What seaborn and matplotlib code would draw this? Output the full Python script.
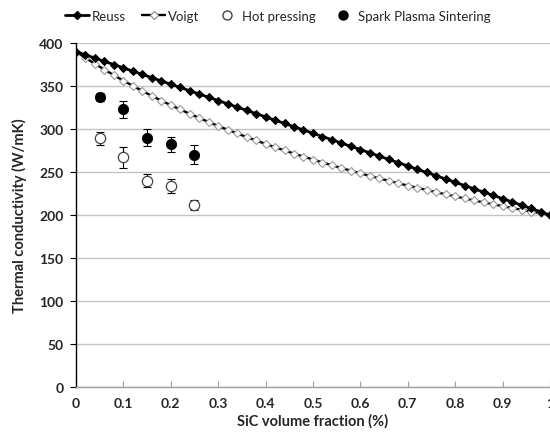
import pandas as pd
import matplotlib
matplotlib.use("Agg")
import matplotlib.pyplot as plt
from matplotlib.lines import Line2D
import seaborn as sns

# fraction de SiC (pas de 0.02) et modèles de Reuss / Voigt
fraction = [i / 50 for i in range(51)]
reuss = [390, 386.2, 382.4, 378.6, 374.8, 371, 367.2, 363.4, 359.6, 355.8,
         352, 348.2, 344.4, 340.6, 336.8, 333, 329.2, 325.4, 321.6, 317.8,
         314, 310.2, 306.4, 302.6, 298.8, 295, 291.2, 287.4, 283.6, 279.8,
         276, 272.2, 268.4, 264.6, 260.8, 257, 253.2, 249.4, 245.6, 241.8,
         238, 234.2, 230.4, 226.6, 222.8, 219, 215.2, 211.4, 207.6, 203.8, 200]
voigt = [390, 382.7, 375.7, 369.0, 362.5, 356.2, 350.1, 344.2, 338.5, 333.0,
         327.7, 322.6, 317.6, 312.8, 308.1, 303.5, 299.1, 294.8, 290.6, 286.6,
         282.6, 278.8, 275.0, 271.4, 267.9, 264.4, 261.0, 257.8, 254.6, 251.5,
         248.4, 245.4, 242.5, 239.7, 236.9, 234.2, 231.6, 229.0, 226.5, 224.0,
         221.6, 219.2, 216.9, 214.6, 212.4, 210.2, 208.1, 206.0, 204.0, 202.0, 200]

# mesures expérimentales
mes_x = [0.05, 0.10, 0.15, 0.20, 0.25]
hp = [289, 267, 240, 234, 212]
hp_err = [8, 12, 8, 8, 6]
sps = [337, 323, 290, 282, 270]
sps_err = [5, 10, 10, 9, 11]

df = pd.DataFrame({"x": fraction, "Reuss": reuss, "Voigt": voigt})
df_mes = pd.DataFrame({"x": mes_x, "hp": hp, "hp_err": hp_err,
                       "sps": sps, "sps_err": sps_err})

sns.set_style("white")
plt.rcParams["font.family"] = ["Lato", "DejaVu Sans"]

fig = plt.figure(figsize=(5.5, 4.39), dpi=100)
ax = fig.add_axes([0.138, 0.116, 0.862, 0.784])

sns.lineplot(data=df, x="x", y="Voigt", ax=ax, color="black", lw=1.7,
             marker="D", markersize=4, markerfacecolor="white",
             markeredgecolor="#9a9a9a", markeredgewidth=0.8)
sns.lineplot(data=df, x="x", y="Reuss", ax=ax, color="black", lw=2,
             marker="D", markersize=3.6, markerfacecolor="black",
             markeredgecolor="black")

ax.errorbar(df_mes["x"], df_mes["hp"], yerr=df_mes["hp_err"], fmt="none",
            ecolor="black", elinewidth=0.8, capsize=3, capthick=0.8)
ax.errorbar(df_mes["x"], df_mes["sps"], yerr=df_mes["sps_err"], fmt="none",
            ecolor="black", elinewidth=0.8, capsize=3, capthick=0.8)
sns.scatterplot(data=df_mes, x="x", y="hp", ax=ax, s=55, color="white",
                edgecolor="#444444", linewidth=0.9, zorder=5)
sns.scatterplot(data=df_mes, x="x", y="sps", ax=ax, s=55, color="black",
                edgecolor="black", zorder=5)

ax.set_xlim(0, 1)
ax.set_ylim(0, 400)
ax.set_xticks([i / 10 for i in range(11)])
ax.set_xticklabels(["0"] + [f"0.{i}" for i in range(1, 10)] + ["1"])
ax.set_yticks(range(0, 401, 50))
ax.yaxis.grid(True, color="#c4c4c4", lw=1)
ax.xaxis.grid(False)
for s in ["top", "right"]:
    ax.spines[s].set_visible(False)
ax.spines["left"].set_color("black")
ax.spines["left"].set_linewidth(1)
ax.spines["bottom"].set_color("#a0a0a0")
ax.spines["bottom"].set_linewidth(1)
ax.tick_params(axis="y", direction="out", length=4, color="black",
               labelsize=10, left=True, pad=5)
ax.tick_params(axis="x", direction="in", length=4, color="#a0a0a0",
               labelsize=10, bottom=True, pad=7)
for lab in ax.get_xticklabels() + ax.get_yticklabels():
    lab.set_fontweight("bold")

ax.set_xlabel("SiC volume fraction (%)", fontsize=10.5, fontweight="bold",
              labelpad=3)
ax.set_ylabel("Thermal conductivity (W/mK)", fontsize=10.5, fontweight="bold",
              labelpad=9)

handles = [
    Line2D([], [], color="black", lw=2, marker="D", markersize=3.6),
    Line2D([], [], color="black", lw=1.7, marker="D", markersize=4,
           markerfacecolor="white", markeredgecolor="#9a9a9a"),
    Line2D([], [], ls="none", marker="o", markersize=6.5,
           markerfacecolor="white", markeredgecolor="#444444"),
    Line2D([], [], ls="none", marker="o", markersize=6.5,
           markerfacecolor="black", markeredgecolor="black"),
]
fig.legend(handles, ["Reuss", "Voigt", "Hot pressing", "Spark Plasma Sintering"],
           loc="center", bbox_to_anchor=(0.505, 0.962), ncol=4, frameon=False,
           fontsize=9.5, handlelength=1.8, handletextpad=0.2, columnspacing=1.2)

fig.savefig("out.png", dpi=100)
